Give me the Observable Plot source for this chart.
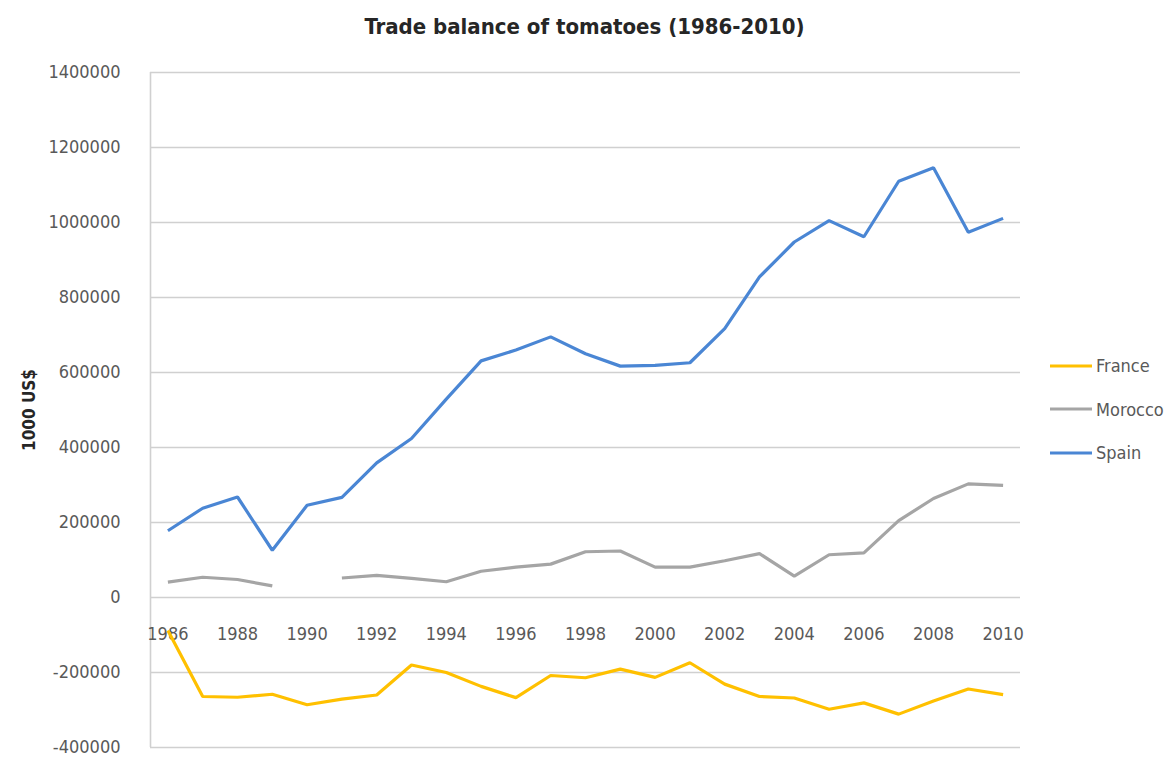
<!DOCTYPE html>
<html>
<head>
<meta charset="utf-8">
<script src="https://cdn.jsdelivr.net/npm/d3@7"></script>
<script src="https://cdn.jsdelivr.net/npm/@observablehq/plot@0.6"></script>
<style>
  body { margin: 0; background: #fff; }
  #wrap { position: relative; width: 1169px; height: 760px; font-family: "Liberation Sans Narrow", "DejaVu Sans Condensed", "Roboto Condensed", sans-serif; }
  #title { height: 50px; line-height: 54px; text-align: center; font-size: 22px; font-weight: bold; color: #262626; }
  #legend { position: absolute; left: 1050px; top: 344px; font-size: 18px; color: #595959; }
  .item { display: flex; align-items: center; height: 43.5px; }
  .item svg { margin-right: 4px; }
</style>
</head>
<body>
<div id="wrap">
  <div id="title">Trade balance of tomatoes (1986-2010)</div>
  <div id="chart"></div>
  <div id="legend"></div>
</div>
<script>
const years = [1986,1987,1988,1989,1990,1991,1992,1993,1994,1995,1996,1997,1998,1999,2000,2001,2002,2003,2004,2005,2006,2007,2008,2009,2010];
const france = [-88000,-264000,-266000,-258000,-286000,-271000,-260000,-180000,-200000,-237000,-267000,-208000,-214000,-191000,-213000,-174000,-231000,-264000,-268000,-298000,-281000,-311000,-276000,-244000,-259000];
const morocco = [41000,54000,48000,31000,null,52000,59000,51000,42000,70000,81000,89000,122000,124000,81000,81000,98000,117000,57000,114000,119000,205000,264000,303000,299000];
const spain = [178000,238000,268000,126000,246000,267000,359000,424000,529000,631000,660000,695000,650000,617000,619000,626000,717000,855000,948000,1005000,962000,1110000,1146000,974000,1011000];
const seriesNames = ["France", "Morocco", "Spain"];
const seriesColors = ["#FFC000", "#A5A5A5", "#4A86D4"];
const yTicks = [-400000,-200000,0,200000,400000,600000,800000,1000000,1200000,1400000];
const xTicks = [1986,1988,1990,1992,1994,1996,1998,2000,2002,2004,2006,2008,2010];

const seriesValues = [france, morocco, spain];
const rows = [];
seriesNames.forEach((name, i) => {
  years.forEach((yr, j) => rows.push({series: name, year: yr, value: seriesValues[i][j]}));
});

const font = "'Liberation Sans Narrow', 'DejaVu Sans Condensed', 'Roboto Condensed', sans-serif";
const grid = "#D0D0D0";

const chart = Plot.plot({
  width: 1169,
  height: 710,
  marginLeft: 150,
  marginRight: 149,
  marginTop: 22,
  marginBottom: 13,
  style: {fontFamily: font, fontSize: "18px", color: "#595959", background: "#fff"},
  x: {domain: [years[0] - 0.5, years[years.length - 1] + 0.5], axis: null},
  y: {domain: [-400000, 1400000], axis: null},
  color: {domain: seriesNames, range: seriesColors},
  marks: [
    Plot.ruleY(yTicks, {stroke: grid, strokeWidth: 1.6}),
    Plot.ruleX([years[0] - 0.5], {stroke: grid, strokeWidth: 1.6}),
    Plot.axisY({ticks: yTicks, tickSize: 0, tickPadding: 30, tickFormat: d => String(d), fill: "#595959", fontSize: 18,
      label: "1000 US$", labelAnchor: "center", labelOffset: 128, labelArrow: false}),
    Plot.text(xTicks, {x: d => d, y: 0, text: d => String(d), dy: 37, fill: "#595959", fontSize: 18}),
    Plot.line(rows, {x: "year", y: "value", z: "series", stroke: "series", strokeWidth: 3.2, strokeLinejoin: "miter", strokeLinecap: "butt"})
  ]
});
document.getElementById("chart").appendChild(chart);

// y label bold and darker
chart.querySelectorAll("g[aria-label='y-axis label'] text").forEach(t => {
  t.setAttribute("font-weight", "bold");
  t.setAttribute("fill", "#262626");
  t.setAttribute("font-size", "17");
});

const legend = document.getElementById("legend");
seriesNames.forEach((name, i) => {
  const it = document.createElement("div");
  it.className = "item";
  it.innerHTML = `<svg width="42" height="6"><line x1="0" x2="42" y1="3" y2="3" stroke="${seriesColors[i]}" stroke-width="3.2"/></svg><span>${name}</span>`;
  legend.appendChild(it);
});
</script>
</body>
</html>
